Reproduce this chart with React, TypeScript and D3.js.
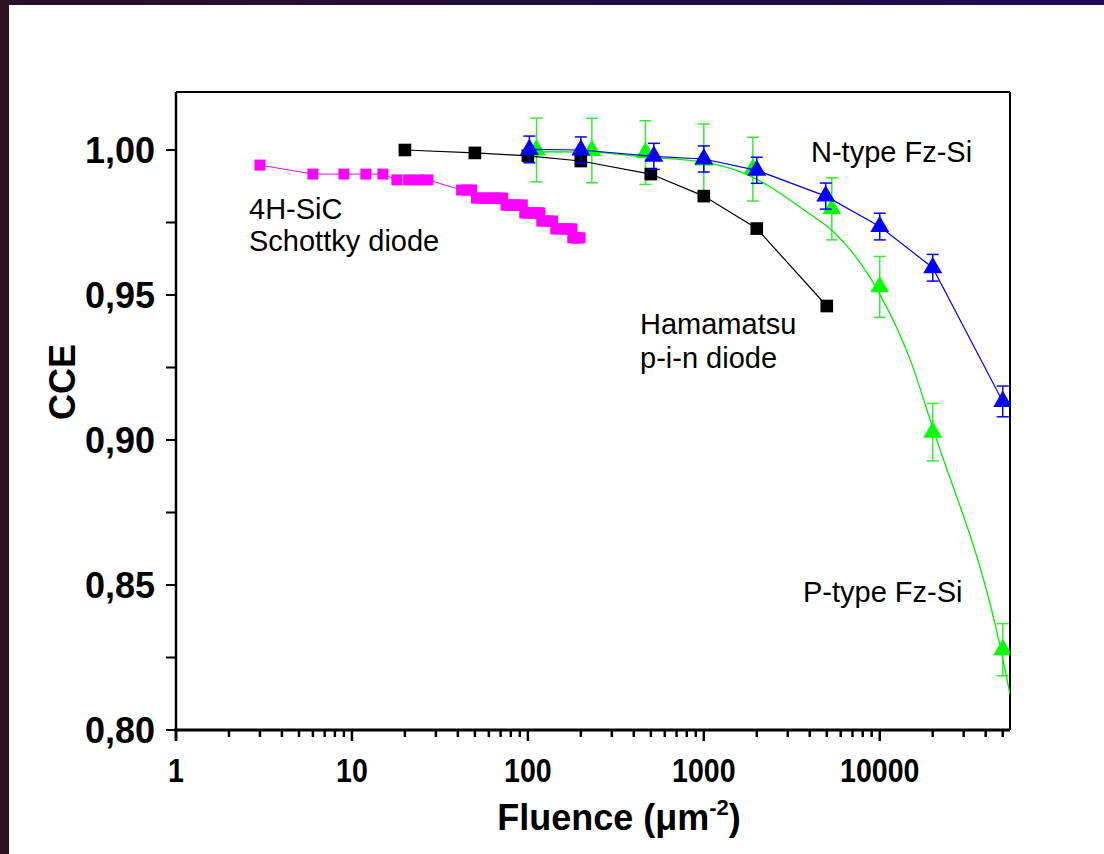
import React from "react";
import * as d3 from "d3";

// ---- data ----
const xMajorTicks = [1, 10, 100, 1000, 10000];
const yMajorTicks = [0.8, 0.85, 0.9, 0.95, 1.0];
const yMinorTicks = [0.825, 0.875, 0.925, 0.975];

// 4H-SiC Schottky diode
const sicFluence = [3, 6, 9, 12, 15, 18, 21, 24, 27, 42, 45, 48, 51, 54, 57, 60, 63, 66, 69, 72, 75, 78, 81, 84, 87, 90, 93, 96, 99, 102, 105, 108, 111, 114, 117, 120, 126, 132, 138, 144, 150, 156, 162, 170, 178, 180, 186, 192, 198];
const sicCCE = [0.9948, 0.9917, 0.9917, 0.9917, 0.9917, 0.9897, 0.9897, 0.9897, 0.9897, 0.9862, 0.9862, 0.9862, 0.9834, 0.9834, 0.9834, 0.9834, 0.9834, 0.9834, 0.9834, 0.9834, 0.981, 0.981, 0.981, 0.981, 0.981, 0.981, 0.981, 0.9783, 0.9783, 0.9783, 0.9783, 0.9783, 0.9783, 0.9783, 0.9783, 0.9755, 0.9755, 0.9755, 0.9755, 0.9728, 0.9728, 0.9728, 0.9728, 0.9728, 0.9728, 0.9697, 0.9697, 0.9697, 0.9697];

// Hamamatsu p-i-n diode
const hamFluence = [20, 50, 100, 200, 500, 1000, 2000, 5000];
const hamCCE = [1.0, 0.999, 0.998, 0.9962, 0.9917, 0.9841, 0.9729, 0.9462];

// N-type Fz-Si
const nFluence = [102, 200, 520, 1000, 2000, 4930, 10000, 20000, 50000];
const nCCE = [1.0002, 1.0, 0.9978, 0.9969, 0.993, 0.9841, 0.9736, 0.9594, 0.9133];
const nErr = [0.0046, 0.0045, 0.0045, 0.0045, 0.0045, 0.0045, 0.0046, 0.0046, 0.0053];

// P-type Fz-Si
const pFluence = [112, 231, 466, 1000, 1900, 5340, 10000, 20000, 50000];
const pCCE = [1.0, 0.9998, 0.9991, 0.9965, 0.9934, 0.9797, 0.9528, 0.9027, 0.8277];
const pErr = [0.011, 0.0111, 0.011, 0.0125, 0.011, 0.0107, 0.0105, 0.0099, 0.009];

// P-type fit curve
const fitFluence = [112, 230, 450, 1000, 1750, 4000, 5400, 10000, 15000, 20000, 49000, 55000];
const fitCCE = [0.9994, 0.9993, 0.9976, 0.9958, 0.9916, 0.9779, 0.9721, 0.9503, 0.9272, 0.9042, 0.8272, 0.8124];

const FONT = "'Liberation Sans', Arial, sans-serif";

export default function App() {
  const W = 1104, H = 854;
  const x = d3.scaleLog().domain([1, 55000]).range([176, 1010]);
  const y = d3.scaleLinear().domain([0.8, 1.02]).range([730, 92]);

  const xMinor = x.ticks().filter((t) => !xMajorTicks.includes(t) && t <= 55000);

  const lineLin = d3.line<[number, number]>().x((d) => x(d[0])).y((d) => y(d[1]));
  const lineFit = d3
    .line<[number, number]>()
    .x((d) => x(d[0]))
    .y((d) => y(d[1]))
    .curve(d3.curveMonotoneX);

  const sq11 = d3.symbol(d3.symbolSquare, 121)();
  const sq12 = d3.symbol(d3.symbolSquare, 160)();
  const tri = d3.symbol(d3.symbolTriangle, 155)();

  const sic = sicFluence.map((f, i) => [f, sicCCE[i]] as [number, number]);
  const ham = hamFluence.map((f, i) => [f, hamCCE[i]] as [number, number]);
  const nT = nFluence.map((f, i) => [f, nCCE[i]] as [number, number]);
  const pT = pFluence.map((f, i) => [f, pCCE[i]] as [number, number]);
  const fit = fitFluence.map((f, i) => [f, fitCCE[i]] as [number, number]);

  const errBars = (fl: number[], v: number[], e: number[], color: string) =>
    fl.map((f, i) => {
      const cx = x(f);
      const y1 = y(v[i] + e[i]);
      const y2 = y(v[i] - e[i]);
      return (
        <g key={i} stroke={color} strokeWidth={1.5}>
          <line x1={cx} x2={cx} y1={y1} y2={y2} />
          <line x1={cx - 6} x2={cx + 6} y1={y1} y2={y1} />
          <line x1={cx - 6} x2={cx + 6} y1={y2} y2={y2} />
        </g>
      );
    });

  return (
    <svg width={W} height={H} style={{ position: "absolute", left: 0, top: 0 }} fontFamily={FONT}>
      <defs>
        <linearGradient id="topband" x1="0" x2="1" y1="0" y2="0">
          <stop offset="0" stopColor="#2a1028" />
          <stop offset="1" stopColor="#1d0c55" />
        </linearGradient>
        <clipPath id="plotclip">
          <rect x={176} y={92} width={834} height={638} />
        </clipPath>
      </defs>
      <rect x={0} y={0} width={W} height={H} fill="#ffffff" />
      <rect x={0} y={0} width={W} height={5} fill="url(#topband)" />
      <rect x={0} y={0} width={9} height={H} fill="#2a1020" />

      {/* frame */}
      <line x1={176} x2={1010} y1={92} y2={92} stroke="#000" strokeWidth={2} />
      <line x1={1010} x2={1010} y1={92} y2={730} stroke="#000" strokeWidth={2} />

      {/* y axis */}
      <line x1={176} x2={176} y1={92} y2={740} stroke="#000" strokeWidth={2.5} />
      {yMajorTicks.map((t) => (
        <g key={t}>
          <line x1={166} x2={176} y1={y(t)} y2={y(t)} stroke="#000" strokeWidth={2} />
          <text x={155} y={y(t)} dy="0.36em" textAnchor="end" fontSize={36} fontWeight="bold">
            {d3.format(".2f")(t).replace(".", ",")}
          </text>
        </g>
      ))}
      {yMinorTicks.map((t) => (
        <line key={t} x1={166} x2={176} y1={y(t)} y2={y(t)} stroke="#000" strokeWidth={2} />
      ))}

      {/* x axis */}
      <line x1={174} x2={1010} y1={730} y2={730} stroke="#000" strokeWidth={3} />
      {xMajorTicks.map((t) => (
        <g key={t}>
          <line x1={x(t)} x2={x(t)} y1={730} y2={741} stroke="#000" strokeWidth={2.5} />
          <text
            transform={`translate(${x(t)},782) scale(0.84,1)`}
            textAnchor="middle"
            fontSize={34}
            fontWeight="bold"
          >
            {String(t)}
          </text>
        </g>
      ))}
      {xMinor.map((t) => (
        <line key={t} x1={x(t)} x2={x(t)} y1={730} y2={737} stroke="#000" strokeWidth={2.5} />
      ))}

      {/* axis titles */}
      <text
        transform={`translate(75,382) rotate(-90)`}
        textAnchor="middle"
        fontSize={36}
        fontWeight="bold"
      >
        CCE
      </text>
      <text x={619} y={830} textAnchor="middle" fontSize={36} fontWeight="bold">
        Fluence (μm
        <tspan dy={-15} fontSize={22}>-2</tspan>
        <tspan dy={15}>)</tspan>
      </text>

      <g clipPath="url(#plotclip)">
        {/* 4H-SiC */}
        <path d={lineLin(sic) || ""} fill="none" stroke="#ff00ff" strokeWidth={1} />
        {sic.map((d, i) => (
          <path key={i} d={sq11} transform={`translate(${x(d[0])},${y(d[1])})`} fill="#ff00ff" />
        ))}

        {/* P-type */}
        {errBars(pFluence, pCCE, pErr, "#33ee33")}
        <path d={lineFit(fit) || ""} fill="none" stroke="#00ee00" strokeWidth={1.3} />
        {pT.map((d, i) => (
          <path key={i} d={tri} transform={`translate(${x(d[0])},${y(d[1])})`} fill="#00ff00" />
        ))}

        {/* Hamamatsu */}
        <path d={lineLin(ham) || ""} fill="none" stroke="#000" strokeWidth={1.2} />
        {ham.map((d, i) => (
          <path key={i} d={sq12} transform={`translate(${x(d[0])},${y(d[1])})`} fill="#000" />
        ))}

        {/* N-type */}
        {errBars(nFluence, nCCE, nErr, "#0000ff")}
        <path d={lineLin(nT) || ""} fill="none" stroke="#0000ff" strokeWidth={1.2} />
        {nT.map((d, i) => (
          <path key={i} d={tri} transform={`translate(${x(d[0])},${y(d[1])})`} fill="#0000ff" />
        ))}
      </g>

      {/* annotations */}
      <g fontSize={29} fill="#000">
        <text x={249} y={219}>4H-SiC</text>
        <text x={249} y={251}>Schottky diode</text>
        <text x={640} y={334}>Hamamatsu</text>
        <text x={640} y={368}>p-i-n diode</text>
        <text x={811} y={162}>N-type Fz-Si</text>
        <text x={803} y={602}>P-type Fz-Si</text>
      </g>
    </svg>
  );
}
